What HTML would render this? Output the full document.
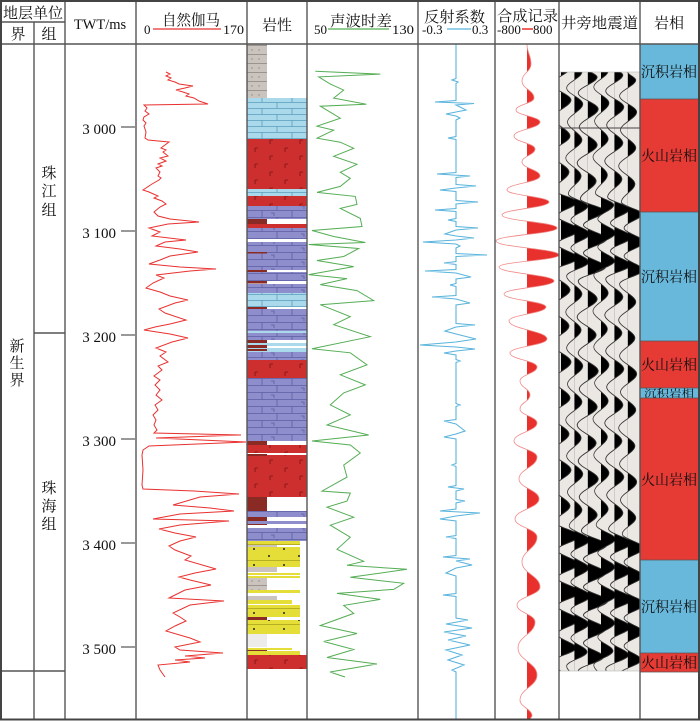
<!DOCTYPE html>
<html><head><meta charset="utf-8"><style>
html,body{margin:0;padding:0;background:#fff}
svg{display:block}
.cn{font-family:"Liberation Serif","Noto Serif CJK SC",serif;fill:#111}
.num{font-family:"Liberation Serif",serif;fill:#111}
</style></head><body>
<svg width="700" height="721" viewBox="0 0 700 721" xmlns="http://www.w3.org/2000/svg">
<defs>
<pattern id="lb" patternUnits="userSpaceOnUse" x="247" y="0" width="60" height="12">
<rect width="60" height="12" fill="#a9d9ea"/>
<path d="M0,0.5H60M0,6.5H60M15,0.5V6.5M45,0.5V6.5M30,6.5V12.5" stroke="#5b9dbd" stroke-width="0.8" fill="none"/>
</pattern>
<pattern id="pu" patternUnits="userSpaceOnUse" x="247" y="0" width="60" height="14">
<rect width="60" height="14" fill="#8e8ecc"/>
<path d="M0,0.5H60M0,7.5H60M15,0.5V7.5M45,0.5V7.5M30,7.5V14.5M24,3h3v3M54,10h3v3" stroke="#5d5da5" stroke-width="0.8" fill="none"/>
</pattern>
<pattern id="rd" patternUnits="userSpaceOnUse" x="247" y="0" width="30" height="16">
<rect width="30" height="16" fill="#cc2f2e"/>
<path d="M8,4h3M8,4v4M23,12h3M23,12v4" stroke="#7a1414" stroke-width="0.8" fill="none"/>
</pattern>
<pattern id="ye" patternUnits="userSpaceOnUse" x="247" y="0" width="30" height="16">
<rect width="30" height="16" fill="#e6de38"/>
<path d="M0,0.5H30" stroke="#a9a11c" stroke-width="0.7"/>
<circle cx="7" cy="5" r="1" fill="#222"/><circle cx="22" cy="12" r="1" fill="#222"/>
</pattern>
<pattern id="gr" patternUnits="userSpaceOnUse" x="247" y="0" width="20" height="9">
<rect width="20" height="9" fill="#cbc4be"/>
<path d="M0,0.5H20" stroke="#8c8680" stroke-width="0.7"/>
<circle cx="5" cy="5" r="0.7" fill="#888"/><circle cx="12" cy="5" r="0.7" fill="#888"/>
</pattern>
<clipPath id="sc"><rect x="559" y="72" width="81" height="599"/></clipPath>
<clipPath id="syn"><rect x="527" y="44" width="32" height="676"/></clipPath>
<clipPath id="tc"><rect x="0" y="-10" width="30" height="700"/></clipPath>
<g id="tr">
<path clip-path="url(#tc)" fill="#000" d="M0,0 C0,2.8 9,5.2 9,8 C9,13.6 -9,18.4 -9,24 C-9,29.6 10,34.4 10,40 C10,46.3 -8,51.7 -8,58 C-8,64.3 9,69.7 9,76 C9,82.3 -10,87.7 -10,94 C-10,100.3 8,105.7 8,112 C8,118.3 -7,123.7 -7,130 C-7,134.2 16,137.8 16,142 C16,146.9 -4,151.1 -4,156 C-4,160.9 18,165.1 18,170 C18,174.9 -4,179.1 -4,184 C-4,188.9 17,193.1 17,198 C17,202.9 -9,207.1 -9,212 C-9,218.3 9,223.7 9,230 C9,236.3 -10,241.7 -10,248 C-10,254.3 8,259.7 8,266 C8,272.3 -9,277.7 -9,284 C-9,290.3 10,295.7 10,302 C10,308.3 -8,313.7 -8,320 C-8,326.3 9,331.7 9,338 C9,344.3 -10,349.7 -10,356 C-10,362.3 8,367.7 8,374 C8,380.3 -9,385.7 -9,392 C-9,398.3 10,403.7 10,410 C10,416.3 -8,421.7 -8,428 C-8,434.3 9,439.7 9,446 C9,451.6 -6,456.4 -6,462 C-6,466.9 18,471.1 18,476 C18,480.9 -4,485.1 -4,490 C-4,494.9 17,499.1 17,504 C17,508.9 -4,513.1 -4,518 C-4,522.9 19,527.1 19,532 C19,536.9 -4,541.1 -4,546 C-4,550.9 17,555.1 17,560 C17,564.9 -4,569.1 -4,574 C-4,578.9 15,583.1 15,588 C15,592.9 -9,597.1 -9,602 C-9,608.3 8,613.7 8,620 C8,626.3 -9,631.7 -9,638 C-9,644.3 8,649.7 8,656 L0,670 Z"/>
<path fill="none" stroke="#333" stroke-width="0.9" d="M0,0 C0,2.8 9,5.2 9,8 C9,13.6 -9,18.4 -9,24 C-9,29.6 10,34.4 10,40 C10,46.3 -8,51.7 -8,58 C-8,64.3 9,69.7 9,76 C9,82.3 -10,87.7 -10,94 C-10,100.3 8,105.7 8,112 C8,118.3 -7,123.7 -7,130 C-7,134.2 16,137.8 16,142 C16,146.9 -4,151.1 -4,156 C-4,160.9 18,165.1 18,170 C18,174.9 -4,179.1 -4,184 C-4,188.9 17,193.1 17,198 C17,202.9 -9,207.1 -9,212 C-9,218.3 9,223.7 9,230 C9,236.3 -10,241.7 -10,248 C-10,254.3 8,259.7 8,266 C8,272.3 -9,277.7 -9,284 C-9,290.3 10,295.7 10,302 C10,308.3 -8,313.7 -8,320 C-8,326.3 9,331.7 9,338 C9,344.3 -10,349.7 -10,356 C-10,362.3 8,367.7 8,374 C8,380.3 -9,385.7 -9,392 C-9,398.3 10,403.7 10,410 C10,416.3 -8,421.7 -8,428 C-8,434.3 9,439.7 9,446 C9,451.6 -6,456.4 -6,462 C-6,466.9 18,471.1 18,476 C18,480.9 -4,485.1 -4,490 C-4,494.9 17,499.1 17,504 C17,508.9 -4,513.1 -4,518 C-4,522.9 19,527.1 19,532 C19,536.9 -4,541.1 -4,546 C-4,550.9 17,555.1 17,560 C17,564.9 -4,569.1 -4,574 C-4,578.9 15,583.1 15,588 C15,592.9 -9,597.1 -9,602 C-9,608.3 8,613.7 8,620 C8,626.3 -9,631.7 -9,638 C-9,644.3 8,649.7 8,656 L0,670"/>
</g>
</defs>

<rect width="700" height="721" fill="#fff"/>

<!-- Lithology -->
<g>
<rect x="247" y="44" width="20" height="54" fill="url(#gr)"/>
<rect x="247" y="98" width="60" height="41" fill="url(#lb)"/>
<rect x="247" y="139" width="60" height="50" fill="url(#rd)"/>
<rect x="247" y="189" width="60" height="7" fill="url(#lb)"/>
<rect x="247" y="196" width="60" height="10" fill="url(#rd)"/>
<rect x="247" y="206" width="60" height="13" fill="url(#pu)"/>
<rect x="247" y="219" width="20" height="5" fill="#8a2a25"/>
<rect x="247" y="224" width="60" height="4" fill="#cc2f2e"/>
<rect x="247" y="228" width="60" height="11" fill="url(#pu)"/>
<rect x="247" y="242" width="60" height="28" fill="url(#pu)"/>
<rect x="247" y="252" width="20" height="1.5" fill="#8a2a25"/>
<rect x="247" y="270" width="20" height="2" fill="#8a2a25"/>
<rect x="247" y="272" width="60" height="9" fill="url(#pu)"/>
<rect x="247" y="281" width="20" height="2.5" fill="#8a2a25"/>
<rect x="247" y="284" width="60" height="9" fill="url(#pu)"/>
<rect x="247" y="293" width="60" height="14" fill="url(#lb)"/>
<rect x="247" y="307" width="20" height="2" fill="#8a2a25"/>
<rect x="247" y="309" width="60" height="22" fill="url(#pu)"/>
<rect x="247" y="331" width="60" height="2" fill="#a9d9ea"/>
<rect x="247" y="333" width="60" height="7" fill="url(#pu)"/>
<rect x="247" y="340" width="20" height="3" fill="#8a2a25"/>
<rect x="247" y="343" width="60" height="9" fill="#a9d9ea"/>
<rect x="247" y="345" width="20" height="3" fill="#8a2a25"/>
<rect x="267" y="346" width="40" height="2" fill="#fff"/>
<rect x="247" y="349" width="20" height="2" fill="#8a2a25"/>
<rect x="247" y="352" width="60" height="8" fill="url(#pu)"/>
<rect x="247" y="360" width="60" height="18" fill="url(#rd)"/>
<rect x="247" y="378" width="60" height="63" fill="url(#pu)"/>
<rect x="247" y="441" width="20" height="4" fill="#8a2a25"/>
<rect x="247" y="445" width="60" height="8" fill="url(#rd)"/>
<rect x="247" y="455" width="60" height="42" fill="url(#rd)"/>
<rect x="247" y="454" width="20" height="2" fill="#8a2a25"/>
<rect x="247" y="497" width="20" height="14" fill="#8a2a25"/>
<rect x="247" y="511" width="60" height="6" fill="url(#pu)"/>
<rect x="247" y="517" width="20" height="8" fill="#8a2a25"/>
<rect x="247" y="521" width="60" height="3" fill="#8e8ecc"/>
<rect x="247" y="528" width="60" height="13" fill="url(#pu)"/>
<rect x="247" y="541" width="53" height="4" fill="url(#ye)"/>
<rect x="247" y="545" width="30" height="2" fill="#cbc4be"/>
<rect x="247" y="547" width="53" height="20" fill="url(#ye)"/>
<rect x="247" y="567" width="30" height="5" fill="#cbc4be"/>
<rect x="247" y="573" width="53" height="2" fill="#e6de38"/>
<rect x="247" y="576" width="53" height="2" fill="#e6de38"/>
<rect x="247" y="578" width="20" height="12" fill="url(#gr)"/>
<rect x="247" y="590" width="53" height="3" fill="#e6de38"/>
<rect x="247" y="596" width="30" height="4" fill="#cbc4be"/>
<rect x="247" y="600" width="45" height="4" fill="#e6de38"/>
<rect x="247" y="605" width="53" height="12" fill="url(#ye)"/>
<rect x="247" y="617" width="20" height="3" fill="#8a2a25"/>
<rect x="247" y="620" width="53" height="14" fill="url(#ye)"/>
<rect x="247" y="634" width="20" height="13" fill="#eeeceb"/>
<rect x="247" y="648" width="45" height="2" fill="#e6de38"/>
<rect x="247" y="650" width="20" height="2" fill="#8a2a25"/>
<rect x="247" y="651" width="53" height="4" fill="#e6de38"/>
<rect x="247" y="655" width="60" height="14" fill="url(#rd)"/>
</g>

<!-- Facies -->
<g>
<rect x="640" y="44" width="58" height="55" fill="#68b8dc"/>
<rect x="640" y="99" width="58" height="113" fill="#e63a35"/>
<rect x="640" y="212" width="58" height="129" fill="#68b8dc"/>
<rect x="640" y="341" width="58" height="47" fill="#e63a35"/>
<rect x="640" y="388" width="58" height="10" fill="#68b8dc"/>
<rect x="640" y="398" width="58" height="162" fill="#e63a35"/>
<rect x="640" y="560" width="58" height="93" fill="#68b8dc"/>
<rect x="640" y="653" width="58" height="19" fill="#e63a35"/>
<path d="M640,99H698M640,212H698M640,341H698M640,388H698M640,398H698M640,560H698M640,653H698M640,672H698" stroke="#555" stroke-width="0.7"/>
<g class="cn" font-size="14.5">
<text x="641" y="77" textLength="56" lengthAdjust="spacingAndGlyphs">沉积岩相</text>
<text x="641" y="161" textLength="56" lengthAdjust="spacingAndGlyphs">火山岩相</text>
<text x="641" y="282" textLength="56" lengthAdjust="spacingAndGlyphs">沉积岩相</text>
<text x="641" y="370" textLength="56" lengthAdjust="spacingAndGlyphs">火山岩相</text>
<text x="641" y="485" textLength="56" lengthAdjust="spacingAndGlyphs">火山岩相</text>
<text x="641" y="612" textLength="56" lengthAdjust="spacingAndGlyphs">沉积岩相</text>
<text x="641" y="668" textLength="56" lengthAdjust="spacingAndGlyphs">火山岩相</text>
</g>
<text class="cn" x="644" y="397" font-size="10" textLength="50" lengthAdjust="spacingAndGlyphs">沉积岩相</text>
</g>

<!-- Seismic -->
<g clip-path="url(#sc)">
<rect x="559" y="72" width="81" height="599" fill="#ebe7e3"/>
<use href="#tr" transform="translate(561,60) scale(1,1)"/>
<use href="#tr" transform="translate(574.3,64) scale(0.85,1)"/>
<use href="#tr" transform="translate(587.7,69) scale(1.05,1)"/>
<use href="#tr" transform="translate(601,63) scale(0.8,1)"/>
<use href="#tr" transform="translate(614.3,67) scale(0.95,1)"/>
<use href="#tr" transform="translate(627.7,72) scale(0.9,1)"/>
<path d="M559,128H640" stroke="#444" stroke-width="1"/>
</g>
<rect x="559" y="72" width="81" height="599" fill="none" stroke="#bbb" stroke-width="0.6"/>

<!-- GR curve -->
<polyline fill="none" stroke="#e8312f" stroke-width="1" points="166,72 170,74 166,76 171,78 168,80 175,82 179,84 193,86 185,88 176,90 183,92 189,94 186,96 194,98 199,101 208,104 144,105 147,108 145,111 149,114 144,117 143,120 146,123 144,126 146,132 145,138 148,140 169,142 165,145 161,148 166,150 163,152 168,156 160,158 166,161 158,164 162,166 156,168 160,172 158,176 161,178 159,180 152,184 143,190 149,192 158,196 154,198 162,201 166,204 160,207 154,212 158,216 170,219 199,222 168,224 149,228 160,232 152,236 186,240 165,242 156,246 180,249 198,252 170,256 160,260 149,264 180,267 216,269 190,271 156,275 164,278 153,283 146,288 160,292 170,296 188,300 175,303 159,309 165,313 186,320 170,324 155,327 144,330 170,334 188,338 172,342 156,348 166,352 160,356 168,362 158,366 162,370 154,376 160,380 155,385 160,390 156,395 162,400 155,405 158,410 153,415 156,420 154,425 157,430 154,433 241,435 156,438 246,442 149,446 143,450 142,455 143,470 142,485 143,489 194,491 239,494 200,497 173,505 210,508 234,511 180,514 153,519 229,521 180,525 159,529 175,533 196,537 180,541 169,546 175,550 191,556 185,560 216,569 195,573 179,577 190,580 211,585 185,590 169,598 224,601 190,605 173,613 180,617 186,621 175,626 166,631 190,638 200,642 175,647 180,650 223,653 185,656 205,658 175,660 190,662 158,665 160,670 165,677"/>

<!-- Sonic curve -->
<polyline fill="none" stroke="#55ad55" stroke-width="1" points="315.3,71.3 380.3,74.1 318.7,76.9 330.3,84.1 343.7,90.1 333.7,98.1 366.3,104.2 320.3,106.2 330.3,112.2 340.3,118.2 317,126.2 333.7,130.2 317,138.2 340.3,142.2 353.7,148.3 333.7,156.3 357,164.3 340.3,172.3 350.3,178.3 340.3,186.4 317,192.4 355.3,196.4 357,204.4 340.3,208.4 360.3,218.4 362,226.5 312,230.5 333.7,236.5 365.3,242.5 308.7,244.5 358.7,248.5 343.7,256.5 317,260.5 353.7,266.6 308.7,274.6 347,278.6 320.3,284.6 357,290.6 373.7,300.6 320.3,304.7 350.3,316.7 333.7,324.7 370.3,336.7 312,348.8 350.3,352.8 367,364.8 340.3,374.8 365.3,384.9 343.7,392.9 330.3,404.9 350.3,414.9 327,425 368.7,435 312,441 350.3,445 360.3,453 343.7,465.1 347,477.1 322,491.1 350.3,493.1 347,501.1 327,507.2 353.7,517.2 330.3,525.2 350.3,537.2 337,549.3 363.7,561.3 347,565.3 407,569.3 350.3,577.3 403.7,583.3 393.7,589.4 337,593.4 380.3,599.4 343.7,605.4 353.7,613.4 320.3,625.5 357,633.5 323.7,641.5 353.7,649.5 327,657.5 377,664 330,672 345,677"/>

<!-- Reflection coefficient -->
<polyline fill="none" stroke="#5ab4dc" stroke-width="1.1" points="456,44 456,78.5 452,80 458,82 456,83.5 456,100.5 435,102 474,103.5 456,105 466,110 456,112 446,114 456,116 460,118 456,120 456,136.5 448,138 456,139.5 456,172.5 437,174 470,176 456,177.5 456,184.5 476,186 456,188 440,190 456,191.5 456,200.5 478,202 456,204 456,208.5 435,210 456,211.5 456,218.5 448,220 456,221.5 456,226.5 478,228 456,230 445,234 456,236 474,238 456,240 423,242 456,244 460,246 456,248 456,253.5 487,255 456,256.5 456,261.5 444,263 456,264.5 456,269.5 425,271 456,273 471,277 456,279 456,283.5 450,285 456,286.5 456,295.5 432,297 456,299 470,303 456,305 456,323.5 475,325 456,327 445,331 456,334 476,339 456,342 420,345 456,347 475,349 456,351 444,353 456,355 456,359.5 460,361 456,362.5 456,403.5 460,405 456,406.5 456,419.5 444,421 456,424 465,431 456,434 444,437 456,439 456,463.5 452,465 456,466.5 456,485.5 448,487 464,489 456,491 456,499.5 465,501 456,503 456,509 440,511 480,513 456,516 440,519 456,521 456,535.5 446,537 456,538.5 456,555.5 443,557 470,559 456,561 472,565 456,568 446,573 456,576 456,593.5 443,595 456,596.5 456,618 468,620 446,624 472,628 444,632 466,636 448,640 470,645 446,650 462,655 448,660 464,665 452,670 456,672 456,719"/>

<!-- Synthetic -->
<path clip-path="url(#syn)" fill="#e8302c" d="M527,44 C527,53 531,55 531,64 C531,71.7 522,73.3 522,81 C522,88.7 534,90.3 534,98 C534,103.4 516,104.6 516,110 C516,115.4 540,116.6 540,122 C540,128.3 514,129.7 514,136 C514,141.9 535,143.2 535,149 C535,154.9 522,156.2 522,162 C522,168.3 540,169.7 540,176 C540,182.3 507,183.7 507,190 C507,195.4 549,196.6 549,202 C549,207.9 502,209.2 502,215 C502,220.9 557,222.2 557,228 C557,233.9 496,235.2 496,241 C496,247.3 559,248.7 559,255 C559,260.4 499,261.6 499,267 C499,273.3 554,274.7 554,281 C554,286.9 504,288.2 504,294 C504,299.9 546,301.2 546,307 C546,313.3 509,314.7 509,321 C509,329.1 547,330.9 547,339 C547,345.3 510,346.7 510,353 C510,359.3 537,360.7 537,367 C537,373.3 520,374.7 520,381 C520,387.3 530,388.7 530,395 C530,401.3 520,402.7 520,409 C520,415.3 537,416.7 537,423 C537,431.1 514,432.9 514,441 C514,448.2 537,449.8 537,457 C537,466.9 519,469.1 519,479 C519,488 539,490 539,499 C539,508 515,510 515,519 C515,527.1 537,528.9 537,537 C537,548.3 522,550.8 522,562 C522,573.3 540,575.8 540,587 C540,595.1 517,596.9 517,605 C517,612.7 535,614.3 535,622 C535,633.7 518,636.3 518,648 C518,660.2 537,662.9 537,675 C537,686.3 520,688.8 520,700 C520,707.2 532,708.8 532,716 L530,719 L527,719 Z"/>
<path fill="none" stroke="#f08a88" stroke-width="0.8" d="M527,44 C527,53 531,55 531,64 C531,71.7 522,73.3 522,81 C522,88.7 534,90.3 534,98 C534,103.4 516,104.6 516,110 C516,115.4 540,116.6 540,122 C540,128.3 514,129.7 514,136 C514,141.9 535,143.2 535,149 C535,154.9 522,156.2 522,162 C522,168.3 540,169.7 540,176 C540,182.3 507,183.7 507,190 C507,195.4 549,196.6 549,202 C549,207.9 502,209.2 502,215 C502,220.9 557,222.2 557,228 C557,233.9 496,235.2 496,241 C496,247.3 559,248.7 559,255 C559,260.4 499,261.6 499,267 C499,273.3 554,274.7 554,281 C554,286.9 504,288.2 504,294 C504,299.9 546,301.2 546,307 C546,313.3 509,314.7 509,321 C509,329.1 547,330.9 547,339 C547,345.3 510,346.7 510,353 C510,359.3 537,360.7 537,367 C537,373.3 520,374.7 520,381 C520,387.3 530,388.7 530,395 C530,401.3 520,402.7 520,409 C520,415.3 537,416.7 537,423 C537,431.1 514,432.9 514,441 C514,448.2 537,449.8 537,457 C537,466.9 519,469.1 519,479 C519,488 539,490 539,499 C539,508 515,510 515,519 C515,527.1 537,528.9 537,537 C537,548.3 522,550.8 522,562 C522,573.3 540,575.8 540,587 C540,595.1 517,596.9 517,605 C517,612.7 535,614.3 535,622 C535,633.7 518,636.3 518,648 C518,660.2 537,662.9 537,675 C537,686.3 520,688.8 520,700 C520,707.2 532,708.8 532,716 L530,719"/>

<!-- TWT ticks -->
<g stroke="#333" stroke-width="1">
<path d="M121,127H135M121,231H135M121,335H135M121,439H135M121,543H135M121,647H135"/>
</g>
<g class="num" font-size="15" text-anchor="end">
<text x="116" y="134">3 000</text>
<text x="116" y="238">3 100</text>
<text x="116" y="342">3 200</text>
<text x="116" y="446">3 300</text>
<text x="116" y="550">3 400</text>
<text x="116" y="654">3 500</text>
</g>

<!-- Grid lines -->
<g stroke="#555" stroke-width="1.4" fill="none">
<path d="M34,22V719M65,1V719M136,1V719M247,1V719M307,1V719M418,1V719M495,1V719M559,1V719M640,1V719"/>
<path d="M1,22H65M1,44H699M34,333H65M1,671H65"/>
</g>
<rect x="1" y="1" width="698" height="718.5" fill="none" stroke="#444" stroke-width="2"/>

<!-- Header text -->
<g class="cn" font-size="15">
<text x="3" y="18" textLength="60" lengthAdjust="spacingAndGlyphs">地层单位</text>
<text x="18" y="39" text-anchor="middle">界</text>
<text x="49" y="39" text-anchor="middle">组</text>
<text x="162" y="25" textLength="58" lengthAdjust="spacingAndGlyphs">自然伽马</text>
<text x="277" y="30" text-anchor="middle">岩性</text>
<text x="330" y="26" textLength="62" lengthAdjust="spacingAndGlyphs">声波时差</text>
<text x="424" y="22" textLength="61" lengthAdjust="spacingAndGlyphs">反射系数</text>
<text x="497" y="21" textLength="61" lengthAdjust="spacingAndGlyphs">合成记录</text>
<text x="561" y="28" textLength="77" lengthAdjust="spacingAndGlyphs">井旁地震道</text>
<text x="669" y="28" text-anchor="middle">岩相</text>
</g>
<text class="num" x="100" y="29" font-size="14.5" text-anchor="middle">TWT/ms</text>
<g class="num" font-size="13">
<text x="144" y="34">0</text>
<text x="223" y="34" textLength="21" lengthAdjust="spacingAndGlyphs">170</text>
<text x="314" y="34">50</text>
<text x="392" y="34" textLength="22" lengthAdjust="spacingAndGlyphs">130</text>
<text x="422" y="34">-0.3</text>
<text x="472" y="34">0.3</text>
<text x="497" y="34">-800</text>
<text x="533" y="34">800</text>
</g>
<path d="M153,29H221" stroke="#e8312f" stroke-width="1.3"/>
<path d="M328,29H389" stroke="#55ad55" stroke-width="1.3"/>
<path d="M447,29H471" stroke="#5ab4dc" stroke-width="1.3"/>
<path d="M522,29H533" stroke="#e8302c" stroke-width="1.5"/>

<!-- Strata text -->
<g class="cn" font-size="15" text-anchor="middle">
<text x="17" y="351">新</text>
<text x="17" y="368">生</text>
<text x="17" y="385">界</text>
<text x="49" y="178">珠</text>
<text x="49" y="196">江</text>
<text x="49" y="215">组</text>
<text x="49" y="493">珠</text>
<text x="49" y="511">海</text>
<text x="49" y="529">组</text>
</g>
</svg>
</body></html>
